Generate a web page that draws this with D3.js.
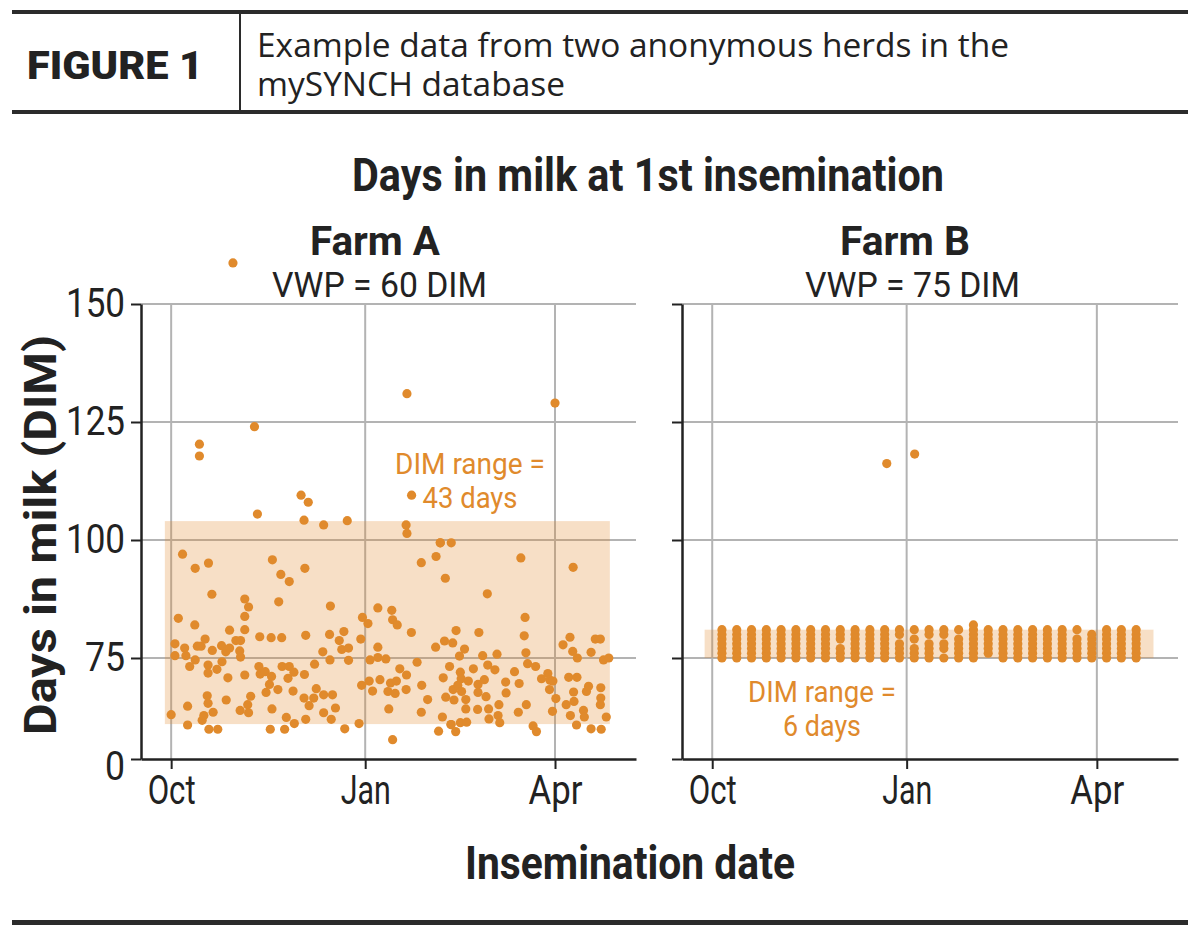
<!DOCTYPE html>
<html>
<head>
<meta charset="utf-8">
<script src="https://cdn.jsdelivr.net/npm/d3@7"></script>
<style>
  body { margin: 0; background: #fff; }
  text { font-family: Roboto, "Liberation Sans", sans-serif; }
</style>
</head>
<body>
<script>
/* CONSTANTS AND GLOBALS */
const width = 1200;
const height = 952;
const orange = "#e08a2c";
const gridColor = "#b3b3b3";
const axisColor = "#222";

/* DATA */
// days after Oct 1 (insemination date) and days in milk
const farmADay = [0, 1.8, 1.8, 3.4, 5.4, 6.4, 7, 7.8, 7.8, 8.8, 11.2, 11.4, 11.4, 12.4, 14.2, 14.7, 15.5, 16.1, 17.7, 17.5,
  17.5, 17.1, 17.5, 17.9, 19.3, 19.5, 19.9, 22.1, 21.7, 23.9, 24.1, 25.9, 26.1, 26.9, 27.7, 27.7, 30.7, 32.9, 32.5, 32.9,
  32.7, 34.9, 34.9, 34.9, 34.9, 36.3, 36.7, 36.7, 37.7, 42, 41.6, 42.2, 44.6, 45, 46.6, 47.6, 48, 47.8, 47, 47.4,
  50.6, 51, 52, 52.4, 52.6, 53.8, 54.6, 55.4, 56, 56, 57.8, 58.4, 58.2, 63.2, 63.4, 63.8, 63, 63.8, 65.4, 67.6,
  68, 68.8, 71.9, 72.3, 72.3, 75.5, 75.1, 75.3, 75.9, 76.5, 77.9, 79.7, 80.9, 81.9, 82.3, 84.1, 84.1, 89.1, 89.9, 90.7,
  90.3, 93.3, 93.9, 94.3, 95.5, 98, 98, 98, 99, 101.8, 102.8, 103.2, 104, 104.6, 105, 105, 106.2, 106.8, 107.2, 108.4,
  111.4, 111.6, 113.9, 116.6, 118.6, 118.6, 118.8, 121.6, 125.4, 125.6, 126.8, 127.6, 129, 128.6, 129.6, 130, 130.2, 132, 132.7, 133.5,
  133.7, 134.1, 132.7, 134.9, 135.1, 135.9, 136.7, 137.1, 137.5, 137.1, 137.7, 139.1, 139.7, 139.7, 140.1, 140.9, 143.3, 145.3, 145.5, 145.9,
  145.5, 147.7, 148.5, 149.3, 149.9, 150.1, 150.5, 150.7, 153.5, 154.5, 155, 155.8, 155.4, 158.6, 158.8, 162.8, 164.6, 165, 165.8, 167.4,
  167.8, 168.2, 168.4, 169, 171.6, 173.2, 172.8, 175.6, 178.6, 179.4, 179.6, 180.8, 181, 182.4, 185.8, 187.3, 188.5, 189.1, 189.3, 190.4,
  190.6, 190.8, 192.4, 192.6, 192.2, 191, 195.5, 195.9, 196.9, 197.9, 199.1, 199.1, 201.1, 203.5, 203.7, 203.7, 203.5, 203.9, 205, 207.5,
  206.3,
  13.4, 13.4, 39.5, 40.9, 61.6, 65, 63, 72.3, 83.5, 111.8, 182, 114, 111.4, 111.8, 127.6, 132.8, 29.3];
const farmADim = [63.0, 78.0, 75.5, 83.4, 97.0, 77.1, 75.5, 64.8, 60.8, 73.2, 82.0, 94.0, 74.6, 77.5, 77.5, 61.8, 62.8, 79.0, 95.1, 73.5,
  71.8, 67.0, 65.4, 59.9, 88.5, 76.6, 63.5, 59.9, 72.6, 77.6, 74.2, 76.3, 66.1, 70.8, 80.9, 77.1, 78.7, 78.7, 76.5, 75.2,
  63.9, 87.5, 83.8, 81.0, 71.4, 65.1, 85.8, 63.4, 66.9, 79.5, 73.2, 71.6, 72.1, 67.7, 69.4, 71.1, 95.8, 64.2, 59.9, 79.3,
  68.3, 86.9, 92.7, 79.3, 73.2, 59.9, 62.4, 70.7, 73.2, 91.2, 68.0, 61.1, 72.0, 71.5, 94.0, 79.8, 66.5, 62.0, 64.9, 66.5,
  73.7, 68.5, 76.3, 67.2, 63.4, 86.0, 80.0, 74.6, 62.0, 67.2, 64.4, 78.7, 76.8, 80.6, 60.0, 77.1, 74.5, 61.1, 79.0, 83.6,
  69.2, 82.3, 70.1, 74.6, 68.0, 85.6, 77.3, 75.1, 70.4, 74.8, 67.9, 64.2, 69.7, 85.1, 83.1, 57.7, 67.5, 70.1, 82.0, 72.7,
  68.3, 71.4, 80.4, 74.1, 95.2, 63.5, 69.2, 66.2, 77.3, 96.5, 59.5, 99.4, 70.8, 62.5, 78.6, 91.9, 66.7, 73.2, 60.9, 78.2,
  68.3, 66.1, 60.9, 59.4, 80.8, 69.2, 75.4, 72.0, 70.6, 61.3, 67.9, 76.9, 66.2, 64.2, 61.4, 70.1, 72.7, 64.1, 67.7, 80.4,
  69.4, 75.5, 70.4, 66.8, 88.6, 73.5, 64.2, 62.1, 72.5, 75.8, 62.8, 61.3, 65.1, 69.9, 67.6, 72.1, 63.5, 69.6, 96.2, 79.7,
  83.6, 76.1, 65.1, 73.8, 60.6, 59.4, 73.2, 70.6, 71.7, 68.3, 70.3, 63.7, 70.1, 66.4, 77.8, 65.1, 70.9, 79.4, 62.8, 76.4,
  94.2, 67.8, 70.9, 75.0, 60.8, 65.8, 63.9, 62.5, 67.9, 69.0, 76.2, 60.0, 79.0, 79.0, 68.7, 66.5, 65.1, 59.9, 74.6, 75.0,
  62.5,
  120.3, 117.8, 124, 105.5, 109.5, 108, 104.2, 103.2, 104.1, 131, 129, 109.5, 103.2, 101.4, 99.4, 99.4, 158.7];

// Farm B breeds on a weekly schedule: breeding day and DIM values per week
const farmBWeekDay = [4.6, 11.6, 18.6, 25.6, 32.6, 39.6, 46.6, 53.6, 60.6, 67.6, 74.6, 81.6, 88.6, 95.6, 102.6,
  109.6, 116.6, 123.6, 130.6, 137.6, 144.6, 151.6, 158.6, 165.6, 172.6, 179.6, 186.6, 193.6, 200.6];
const farmBWeekDims = [
  [75, 76, 77, 78, 79, 80, 81], [75, 76, 77, 78, 79, 80, 81], [75, 76, 77, 78, 79, 80, 81], [75, 76, 77, 78, 79, 80, 81],
  [75, 76, 77, 78, 79, 80, 81], [75, 76, 77, 78, 79, 80, 81], [75, 76, 77, 78, 79, 80, 81], [75, 76, 77, 78, 79, 80, 81],
  [75, 76, 77, 79, 80, 81], [75, 76, 77, 78, 79, 80, 81], [75, 76, 77, 78, 79, 80, 81], [75, 76, 77, 78, 79, 80, 81],
  [75, 76, 77, 78, 80, 81], [75, 76, 77, 79, 81], [75, 76, 77, 78, 80, 81], [75, 77, 78, 80, 81],
  [75, 76, 77, 78, 79, 81], [75, 76, 77, 78, 79, 80, 81, 82], [76, 77, 78, 79, 80, 81], [75, 76, 77, 78, 79, 80, 81],
  [75, 76, 77, 78, 79, 80, 81], [75, 76, 77, 78, 79, 80, 81], [75, 76, 77, 78, 79, 80, 81], [75, 76, 77, 78, 79, 80, 81],
  [75, 76, 77, 78, 79, 81], [75, 76, 77, 78, 79, 80], [75, 76, 77, 78, 79, 80, 81], [75, 76, 77, 78, 79, 80, 81],
  [75, 76, 77, 78, 79, 80, 81]];
const farmBOutDay = [82.6, 95.8];
const farmBOutDim = [116.2, 118.2];

// shaded DIM range boxes [dayStart, dayEnd, dimLow, dimHigh]
const rangeA = [-3, 208, 61, 104];
const rangeB = [-3.6, 208.8, 75, 81];

const yTicks = [53.6, 75, 100, 125, 150];
const xDomainDays = [-14.3, 220.4];
const seasonStart = Date.UTC(2018, 9, 1);
const tickDates = [new Date(Date.UTC(2018, 9, 1)), new Date(Date.UTC(2019, 0, 1)), new Date(Date.UTC(2019, 3, 1))];

const toDate = d => new Date(seasonStart + d * 864e5);

const farmA = farmADay.map((d, i) => ({ date: toDate(d), dim: farmADim[i] }));
const farmB = farmBWeekDay.flatMap((d, i) => farmBWeekDims[i].map(v => ({ date: toDate(d), dim: v })))
  .concat(farmBOutDay.map((d, i) => ({ date: toDate(d), dim: farmBOutDim[i] })));

// squeeze text to a target width so it looks like the condensed face of the original
function fit(sel, len) {
  return sel.attr("textLength", len).attr("lengthAdjust", "spacingAndGlyphs");
}

/* SVG */
const svg = d3.select("body").append("svg")
  .attr("width", width)
  .attr("height", height);

// HEADER
svg.append("rect").attr("x", 12).attr("y", 10).attr("width", 1176).attr("height", 4).attr("fill", "#2b2b2b");
svg.append("rect").attr("x", 12).attr("y", 110).attr("width", 1176).attr("height", 4).attr("fill", "#2b2b2b");
svg.append("line").attr("x1", 240).attr("x2", 240).attr("y1", 12).attr("y2", 112)
  .attr("stroke", "#2b2b2b").attr("stroke-width", 2);
fit(svg.append("text").attr("x", 27).attr("y", 79)
  .style("font-weight", 900).style("font-size", "39px")
  .attr("fill", "#222").text("FIGURE 1"), 176);
fit(svg.append("text").attr("x", 257).attr("y", 57)
  .style("font-family", "'Open Sans', sans-serif").style("font-size", "32px").attr("fill", "#222")
  .text("Example data from two anonymous herds in the"), 752);
fit(svg.append("text").attr("x", 257).attr("y", 96)
  .style("font-family", "'Open Sans', sans-serif").style("font-size", "32px").attr("fill", "#222")
  .text("mySYNCH database"), 308);

// TITLES
fit(svg.append("text").attr("x", 352).attr("y", 191)
  .style("font-weight", "bold").style("font-size", "46px").attr("fill", "#222")
  .text("Days in milk at 1st insemination"), 592);
fit(svg.append("text").attr("x", 465).attr("y", 879)
  .style("font-weight", "bold").style("font-size", "46px").attr("fill", "#222")
  .text("Insemination date"), 330);
fit(svg.append("text").attr("transform", "translate(56,735) rotate(-90)")
  .style("font-weight", "bold").style("font-size", "44px").attr("fill", "#222")
  .text("Days in milk (DIM)"), 400);

/* PANELS */
const panels = [
  { name: "Farm A", vwp: "VWP = 60 DIM", data: farmA, range: rangeA, left: 141, right: 636, tx: 310, vx: 272,
    labels: true, note: ["DIM range =", "43 days"], noteX: 470, noteY: 474, noteW: [150, 95] },
  { name: "Farm B", vwp: "VWP = 75 DIM", data: farmB, range: rangeB, left: 682, right: 1178, tx: 840, vx: 805,
    labels: false, note: ["DIM range =", "6 days"], noteX: 822, noteY: 702, noteW: [148, 78] }
];

const y = d3.scaleLinear().domain([yTicks[0], 150]).range([759, 304]);

const tickW = { "150": 59, "125": 59, "100": 59, "75": 40, "0": 20, "Oct": 48, "Jan": 50, "Apr": 54 };

panels.forEach(p => {
  const x = d3.scaleUtc()
    .domain(xDomainDays.map(toDate))
    .range([p.left, p.right]);

  const g = svg.append("g");

  // panel titles
  fit(g.append("text").attr("x", p.tx).attr("y", 255)
    .style("font-weight", "bold").style("font-size", "40px").attr("fill", "#222").text(p.name), 130);
  fit(g.append("text").attr("x", p.vx).attr("y", 297)
    .style("font-size", "35px").attr("fill", "#222").text(p.vwp), 215);

  // gridlines
  g.selectAll(".vgrid").data(tickDates).enter().append("line")
    .attr("x1", d => x(d)).attr("x2", d => x(d))
    .attr("y1", y(150)).attr("y2", y(yTicks[0]))
    .attr("stroke", gridColor).attr("stroke-width", 2);
  g.selectAll(".hgrid").data(yTicks.slice(1)).enter().append("line")
    .attr("x1", p.left).attr("x2", p.right)
    .attr("y1", d => y(d)).attr("y2", d => y(d))
    .attr("stroke", gridColor).attr("stroke-width", 2);

  // range box
  g.append("rect")
    .attr("x", x(toDate(p.range[0])))
    .attr("width", x(toDate(p.range[1])) - x(toDate(p.range[0])))
    .attr("y", y(p.range[3]))
    .attr("height", y(p.range[2]) - y(p.range[3]))
    .attr("fill", orange).attr("fill-opacity", 0.27);

  // axes
  const yAxis = d3.axisLeft(y).tickValues(yTicks).tickSize(10).tickSizeOuter(0).tickPadding(6)
    .tickFormat(d => p.labels ? (d < 60 ? "0" : d) : "");
  const ya = g.append("g").attr("transform", `translate(${p.left},0)`).call(yAxis);
  const xAxis = d3.axisBottom(x).tickValues(tickDates).tickSize(10).tickSizeOuter(0).tickPadding(7)
    .tickFormat(d3.utcFormat("%b"));
  const xa = g.append("g").attr("transform", `translate(0,${y(yTicks[0])})`).call(xAxis);

  [ya, xa].forEach(a => {
    a.select(".domain").attr("stroke", axisColor).attr("stroke-width", 2.5);
    a.selectAll(".tick line").attr("stroke", axisColor).attr("stroke-width", 2);
    a.selectAll(".tick text").attr("fill", "#222").style("font-size", "40px")
      .style("font-family", "Roboto, sans-serif")
      .each(function () {
        const t = d3.select(this);
        if (tickW[t.text()]) fit(t, tickW[t.text()]);
      });
  });
  ya.selectAll(".tick text").filter(d => d < 60).attr("dy", "0.5em");

  // dots
  g.selectAll(".dot").data(p.data).enter().append("circle")
    .attr("cx", d => x(d.date))
    .attr("cy", d => y(d.dim))
    .attr("r", 4.6)
    .attr("fill", orange);

  // range note
  g.selectAll(".note").data(p.note).enter().append("text")
    .attr("x", (d, i) => p.noteX - p.noteW[i] / 2).attr("y", (d, i) => p.noteY + i * 34)
    .style("font-size", "30px").attr("fill", orange)
    .text(d => d)
    .each(function (d, i) { fit(d3.select(this), p.noteW[i]); });
});

// bottom rule
svg.append("rect").attr("x", 12).attr("y", 920).attr("width", 1176).attr("height", 5).attr("fill", "#2b2b2b");
</script>
</body>
</html>
